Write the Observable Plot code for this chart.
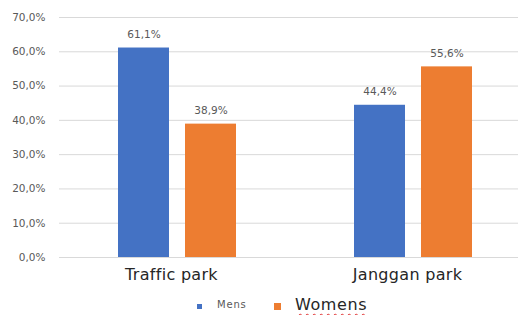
<!DOCTYPE html>
<html>
<head>
<meta charset="utf-8">
<script src="https://cdn.jsdelivr.net/npm/d3@7"></script>
<script src="https://cdn.jsdelivr.net/npm/@observablehq/plot@0.6"></script>
<style>
  html, body { margin: 0; padding: 0; background: #fff; }
  #wrap { position: relative; width: 518px; height: 315px; overflow: hidden; font-family: "DejaVu Sans", sans-serif; }
  #legend { position: absolute; left: 0; top: 287px; width: 518px; height: 28px; }
  .sw { position: absolute; }
  .lab { position: absolute; white-space: nowrap; }
  .fxaxis text { letter-spacing: 0.3px; }
</style>
</head>
<body>
<div id="wrap">
  <div id="chart"></div>
  <div id="legend"></div>
</div>
<script>
const categories = ["Traffic park", "Janggan park"];
const series = ["Mens", "Womens"];
const mens = [61.1, 44.4];
const womens = [38.9, 55.6];
const yTicks = [0, 10, 20, 30, 40, 50, 60, 70];
const colors = ["#4472C4", "#ED7D31"];

const fmt = v => v.toFixed(1).replace(".", ",") + "%";

const rows = [];
categories.forEach((c, i) => {
  rows.push({category: c, series: "Mens", value: mens[i]});
  rows.push({category: c, series: "Womens", value: womens[i]});
});

const chart = Plot.plot({
  width: 518,
  height: 287,
  marginLeft: 59,
  marginRight: -13,
  marginTop: 17,
  marginBottom: 30,
  style: {fontFamily: "DejaVu Sans, sans-serif", background: "transparent"},
  fx: {domain: categories, padding: 0, label: null},
  x: {domain: series, paddingInner: 0.235, paddingOuter: 0.853, axis: null},
  y: {domain: [0, 70], label: null},
  color: {domain: series, range: colors},
  marks: [
    Plot.gridY({ticks: yTicks, stroke: "#d9d9d9", strokeOpacity: 1, strokeWidth: 1}),
    Plot.axisY({ticks: yTicks, tickFormat: fmt, tickSize: 0, tickPadding: 14, fontSize: 10.5, fill: "#595959", label: null}),
    Plot.axisFx({anchor: "bottom", tickSize: 0, tickPadding: 11, fontSize: 16, fill: "#262626", label: null, dx: -6, className: "fxaxis"}),
    Plot.barY(rows, {fx: "category", x: "series", y: "value", fill: "series"}),
    Plot.text(rows, {fx: "category", x: "series", y: "value", text: d => fmt(d.value), dy: -10, lineAnchor: "bottom", fontSize: 10.5, fill: "#595959"})
  ]
});
document.getElementById("chart").appendChild(chart);

// Legend
const legend = document.getElementById("legend");
const items = [
  {name: series[0], color: colors[0], swLeft: 197, swSize: 5, labLeft: 217, fontSize: 10, spacing: 0.8, textColor: "#595959", wavy: false},
  {name: series[1], color: colors[1], swLeft: 274, swSize: 7, labLeft: 295, fontSize: 16, spacing: 0.6, textColor: "#262626", wavy: true}
];
items.forEach(it => {
  const sw = document.createElement("div");
  sw.className = "sw";
  sw.style.left = it.swLeft + "px";
  sw.style.top = (19 - it.swSize / 2) + "px";
  sw.style.width = it.swSize + "px";
  sw.style.height = it.swSize + "px";
  sw.style.background = it.color;
  legend.appendChild(sw);
  const lab = document.createElement("div");
  lab.className = "lab";
  lab.textContent = it.name;
  lab.style.left = it.labLeft + "px";
  lab.style.fontSize = it.fontSize + "px";
  lab.style.letterSpacing = it.spacing + "px";
  lab.style.color = it.textColor;
  lab.style.top = (18 - it.fontSize * 0.65) + "px";
  if (it.wavy) {
    lab.style.textDecoration = "underline wavy #e03030";
    lab.style.textDecorationThickness = "1px";
    lab.style.textUnderlineOffset = "3px";
  }
  legend.appendChild(lab);
});
</script>
</body>
</html>
